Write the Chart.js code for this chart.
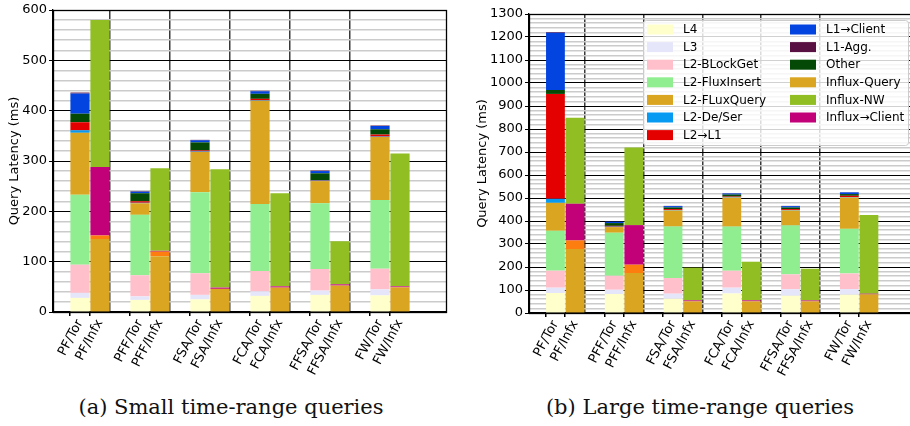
<!DOCTYPE html>
<html><head><meta charset="utf-8">
<script src="https://cdn.jsdelivr.net/npm/chart.js@4.4.1/dist/chart.umd.min.js"></script>
<style>
html,body{margin:0;padding:0;background:#fff;overflow:hidden;width:910px;height:426px;}
#wrapA{position:absolute;left:0;top:0;width:455px;height:395px;}
#wrapB{position:absolute;left:460px;top:0;width:460px;height:395px;}
canvas{display:block;}
.cap{position:absolute;top:395px;font-family:'DejaVu Serif';font-size:21px;color:#111;white-space:nowrap;transform:translateX(-50%);}
</style></head><body>
<div id="wrapA"><canvas id="cA" width="455" height="395"></canvas></div>
<div id="wrapB"><canvas id="cB" width="460" height="395"></canvas></div>
<div class="cap" style="left:231px">(a) Small time-range queries</div>
<div class="cap" style="left:700px">(b) Large time-range queries</div>
<script>
// ---------- categories ----------
const queryTypes = ['PF', 'PFF', 'FSA', 'FCA', 'FFSA', 'FW'];
const systems = ['Tor', 'Infx'];

// ---------- component names ----------
const torComponents = ['L4', 'L3', 'L2-BLockGet', 'L2-FluxInsert', 'L2-FLuxQuery', 'L2-De/Ser', 'L2→L1', 'Other', 'L1→Client', 'L1-Agg.'];
const infxComponents = ['Influx-Query', 'Influx-Other', 'Influx→Client', 'Influx-NW'];
const legendCol1 = ['L4', 'L3', 'L2-BLockGet', 'L2-FluxInsert', 'L2-FLuxQuery', 'L2-De/Ser', 'L2→L1'];
const legendCol2 = ['L1→Client', 'L1-Agg.', 'Other', 'Influx-Query', 'Influx-NW', 'Influx→Client'];

// ---------- (a) small time-range queries, per query type (ms) ----------
const smallL4         = [28, 24, 25, 32, 34, 33];
const smallL3         = [10, 7, 9, 9, 8.5, 12];
const smallBLockGet   = [56, 42, 43, 40.5, 43, 41];
const smallFluxInsert = [139, 120, 161, 133, 130.5, 136.5];
const smallFLuxQuery  = [123, 23, 80, 205, 44, 125];
const smallDeSer      = [5, 1, 1, 1, 1, 1];
const smallL2toL1     = [16, 3, 2, 3, 1, 4];
const smallOther      = [17, 16, 16, 10, 13.5, 10.5];
const smallL1toClient = [40, 3, 4, 5, 4.5, 6.5];
const smallL1Agg      = [2, 1, 1, 1, 1, 1];
const smallInfluxQuery    = [145, 111, 46, 48.5, 52.5, 49];
const smallInfluxOther    = [7, 9, 0, 0, 0, 0];
const smallInfluxToClient = [136, 1.5, 2.5, 2.5, 2.5, 2];
const smallInfluxNW       = [292, 164, 235, 185, 85.5, 264];

// ---------- (b) large time-range queries, per query type (ms) ----------
const largeL4         = [87, 82.5, 62, 85, 75, 79.5];
const largeL3         = [23, 18.5, 22, 25, 29, 24.5];
const largeBLockGet   = [74, 61, 68, 73.7, 64, 68];
const largeFluxInsert = [173.5, 187, 224, 192, 212.7, 194];
const largeFLuxQuery  = [121.5, 24.5, 69.7, 126, 65, 136];
const largeDeSer      = [17.5, 2, 2, 2, 2, 2];
const largeL2toL1     = [456, 3.5, 4, 2.5, 4, 5.6];
const largeOther      = [17, 12, 7, 8.7, 7, 7.4];
const largeL1toClient = [249, 6, 6, 5, 6, 7.6];
const largeL1Agg      = [3, 1, 1, 1, 1, 1];
const largeInfluxQuery    = [278, 174, 50.5, 50.5, 50.5, 81];
const largeInfluxOther    = [37.5, 36, 0, 0, 0, 0];
const largeInfluxToClient = [159.5, 172, 4.5, 4.5, 4, 3];
const largeInfluxNW       = [373.5, 337.5, 142, 168, 138, 341.6];

// ---------- y tick settings ----------
const smallYMax = 600, largeYMax = 1300;
const yMajorStep = 100, yMinorStep = 20;

// ---------- styles ----------
const colors = {
  'L4': '#ffffcc', 'L3': '#e6e6fa', 'L2-BLockGet': '#ffc0cb', 'L2-FluxInsert': '#90ee90',
  'L2-FLuxQuery': '#daa520', 'L2-De/Ser': '#069af3', 'L2→L1': '#e50000',
  'L1→Client': '#0343df', 'L1-Agg.': '#580f41', 'Other': '#054907',
  'Influx-Query': '#daa520', 'Influx-Other': '#fd7e0e', 'Influx-NW': '#90be23', 'Influx→Client': '#c20078'
};

Chart.defaults.font.family = "'DejaVu Sans', sans-serif";
Chart.defaults.color = '#000';

const slotOf = (g, s) => 3 * g + 1 + s;
const labelAt = {};
queryTypes.forEach((q, g) => systems.forEach((s, j) => { labelAt[slotOf(g, j)] = q + '/' + s; }));
const tickSlots = [];
for (let v = 1; v <= slotOf(queryTypes.length - 1, 1); v++) tickSlots.push(v);
const isSep = v => v % 3 === 0;

function buildDatasets(torArrays, infxArrays) {
  const ds = [];
  torComponents.forEach((name, k) => ds.push({
    label: name, backgroundColor: colors[name], borderWidth: 0,
    data: torArrays[k].map((v, g) => ({ x: slotOf(g, 0), y: v }))
  }));
  infxComponents.forEach((name, k) => ds.push({
    label: name, backgroundColor: colors[name], borderWidth: 0,
    data: infxArrays[k].map((v, g) => ({ x: slotOf(g, 1), y: v }))
  }));
  return ds;
}

const framePlugin = {
  id: 'frame',
  afterDraw(chart) {
    const { ctx, chartArea: a } = chart;
    ctx.save();
    ctx.strokeStyle = '#000'; ctx.lineWidth = 1.3;
    ctx.strokeRect(Math.round(a.left) + 0.5, Math.round(a.top) + 0.5, Math.round(a.right - a.left), Math.round(a.bottom - a.top));
    ctx.restore();
  }
};

const legendPlugin = {
  id: 'colLegend',
  afterDraw(chart) {
    const { ctx, chartArea: a } = chart;
    const x0 = a.left + 114, y0 = a.top + 6, w = 265, h = 125;
    ctx.save();
    ctx.beginPath();
    ctx.roundRect(x0 + 0.5, y0 + 0.5, w, h, 3);
    ctx.fillStyle = 'rgba(255,255,255,0.82)';
    ctx.fill();
    ctx.strokeStyle = '#cccccc'; ctx.lineWidth = 1;
    ctx.stroke();
    ctx.font = "12px 'DejaVu Sans'";
    ctx.textBaseline = 'middle'; ctx.textAlign = 'left';
    [legendCol1, legendCol2].forEach((col, c) => {
      col.forEach((name, r) => {
        const sx = x0 + 4 + c * 143, cy = y0 + 9.5 + r * 17.6;
        ctx.fillStyle = colors[name];
        ctx.fillRect(sx, cy - 5, 26, 10);
        ctx.fillStyle = '#000';
        ctx.fillText(name, sx + 36, cy + 0.5);
      });
    });
    ctx.restore();
  }
};

function makeChart(canvasId, datasets, yMax, yAxisWidth, xAxisHeight, padding, titlePad, plugins) {
  return new Chart(document.getElementById(canvasId), {
    type: 'bar',
    data: { datasets },
    plugins,
    options: {
      responsive: false, animation: false, devicePixelRatio: 1,
      layout: { padding },
      datasets: { bar: { barPercentage: 0.96, categoryPercentage: 1.0 } },
      plugins: { legend: { display: false }, tooltip: { enabled: false } },
      scales: {
        x: {
          type: 'linear', min: -0.35, max: 19.3, stacked: true, offset: false, z: 1,
          afterBuildTicks: s => { s.ticks = tickSlots.map(v => ({ value: v })); },
          afterFit: s => { s.height = xAxisHeight; },
          ticks: {
            autoSkip: false, minRotation: 62, maxRotation: 62, padding: 1,
            font: { size: 13 }, color: '#000',
            callback: v => labelAt[v] || ''
          },
          grid: {
            color: c => (c.tick && isSep(c.tick.value)) ? '#3a3a3a' : 'rgba(0,0,0,0)',
            lineWidth: 1.5,
            tickColor: c => (c.tick && !isSep(c.tick.value)) ? '#000' : 'rgba(0,0,0,0)',
            tickLength: 4
          },
          border: { color: '#000', width: 1.5 }
        },
        y: {
          min: 0, max: yMax, stacked: true,
          afterFit: s => { s.width = yAxisWidth; },
          ticks: {
            stepSize: yMinorStep, autoSkip: false, padding: 2,
            font: { size: 13 }, color: '#000',
            callback: v => (v % yMajorStep === 0 ? v : '')
          },
          grid: {
            color: c => (c.tick && c.tick.value % yMajorStep === 0) ? '#000' : '#cbcbcb',
            lineWidth: c => (c.tick && c.tick.value % yMajorStep === 0) ? 1 : 1.5,
            tickColor: c => (c.tick && c.tick.value % yMajorStep === 0) ? '#000' : 'rgba(0,0,0,0)',
            tickLength: 4
          },
          border: { color: '#000', width: 1.3 },
          title: { display: true, text: 'Query Latency (ms)', font: { size: 13 }, color: '#000', padding: { top: titlePad, bottom: 0 } }
        }
      }
    }
  });
}

makeChart('cA',
  buildDatasets(
    [smallL4, smallL3, smallBLockGet, smallFluxInsert, smallFLuxQuery, smallDeSer, smallL2toL1, smallOther, smallL1toClient, smallL1Agg],
    [smallInfluxQuery, smallInfluxOther, smallInfluxToClient, smallInfluxNW]),
  smallYMax, 53, 83, { left: 0, top: 10, right: 9, bottom: 0 }, 7, [framePlugin]);

makeChart('cB',
  buildDatasets(
    [largeL4, largeL3, largeBLockGet, largeFluxInsert, largeFLuxQuery, largeDeSer, largeL2toL1, largeOther, largeL1toClient, largeL1Agg],
    [largeInfluxQuery, largeInfluxOther, largeInfluxToClient, largeInfluxNW]),
  largeYMax, 69, 82, { left: 0, top: 14, right: 6, bottom: 0 }, 15, [framePlugin, legendPlugin]);
</script>
</body></html>
